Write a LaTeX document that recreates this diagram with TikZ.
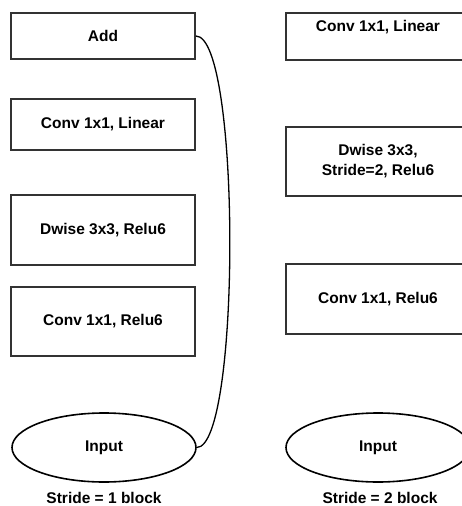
\documentclass[tikz,border=0pt]{standalone}
\usepackage{fontspec}
\setmainfont{Liberation Sans}
\usetikzlibrary{shapes.geometric}
\begin{document}
\begin{tikzpicture}[x=1pt,y=-1pt,
  every node/.style={font=\fontsize{15.5}{20}\selectfont\bfseries, text=black},
  blk/.style={draw=black!80, line width=1.8pt, minimum width=184pt, inner sep=0pt, align=center},
  inp/.style={ellipse, draw=black, line width=1.6pt, minimum width=184pt, minimum height=69pt, inner sep=0pt},
  captext/.style={inner sep=0pt}
]
\useasboundingbox (0,0) rectangle (462,506);
\clip (0,0) rectangle (462,506);
% left column
\node[blk, minimum height=46pt] (add) at (103,36) {Add};
\node[blk, minimum height=51pt] (lin) at (103,124.5) {Conv 1x1, Linear};
\node[blk, minimum height=70pt] (dw) at (103,230) {Dwise 3x3, Relu6};
\node[blk, minimum height=69pt] (cr) at (103,321.5) {Conv 1x1, Relu6};
\node[inp] (inL) at (104,447.5) {Input};
\node[captext] (sL) at (104,498) {Stride = 1 block};
\draw[line width=1.3pt, black] (add.east) .. controls (241,36) and (241,447) .. (inL.east);
% right column
\node[blk, minimum width=184pt, minimum height=47pt] (lin2) at (378,36.5) {};
\node[captext] (lin2t) at (378,27) {Conv 1x1, Linear};
\node[blk, minimum height=69pt] (dw2) at (378,161.5) {Dwise 3x3,\\Stride=2, Relu6};
\node[blk, minimum height=70pt] (cr2) at (378,299) {Conv 1x1, Relu6};
\node[inp] (inR) at (378,447.5) {Input};
\node[captext] (sR) at (380,498) {Stride = 2 block};
\end{tikzpicture}
\end{document}
